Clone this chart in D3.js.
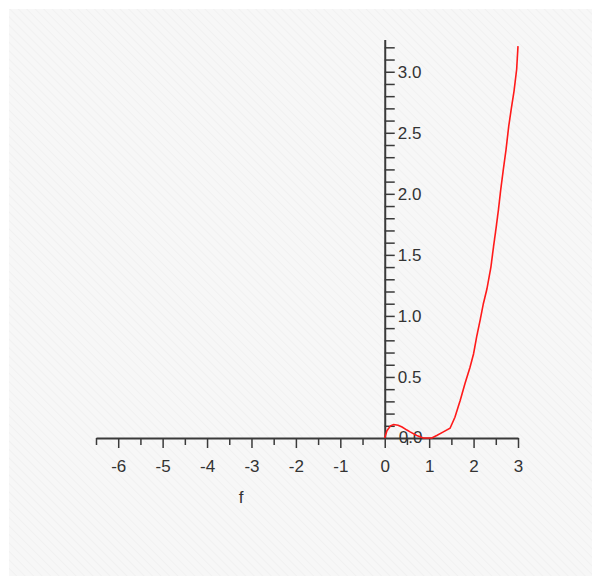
<!DOCTYPE html>
<html>
<head>
<meta charset="utf-8">
<script src="https://cdn.jsdelivr.net/npm/d3@7"></script>
<style>
	body { margin: 0; background: #ffffff; }
	.axis text { font-family: "Liberation Sans", Arial, sans-serif; font-size: 17px; fill: #333333; }
	.axis path, .axis line { stroke: #3a3a3a; }
</style>
</head>
<body>
<div id="plot"></div>
<script>
// curve samples
var xValues = [0, 0.05, 0.13, 0.2, 0.3, 0.39, 0.5, 0.57, 0.72, 0.87, 1.0, 1.06, 1.17, 1.32, 1.47,
	1.58, 1.7, 1.81, 1.92, 2.0, 2.07, 2.15, 2.22, 2.3, 2.39, 2.45, 2.51, 2.56, 2.61, 2.67,
	2.73, 2.79, 2.85, 2.91, 2.97, 3.0];
var yValues = [0, 0.06, 0.10, 0.11, 0.105, 0.09, 0.065, 0.05, 0.02, 0.0, 0.0, 0.0, 0.02, 0.05, 0.08,
	0.17, 0.31, 0.45, 0.58, 0.69, 0.83, 0.97, 1.10, 1.22, 1.40, 1.57, 1.73, 1.87, 2.03, 2.20,
	2.36, 2.55, 2.70, 2.84, 3.02, 3.21];

var xMajorTicks = [-6, -5, -4, -3, -2, -1, 0, 1, 2, 3];
var xMinorTicks = [-6.5, -5.5, -4.5, -3.5, -2.5, -1.5, -0.5, 0.5, 1.5, 2.5];
var yLabelTicks = [0, 0.5, 1.0, 1.5, 2.0, 2.5, 3.0];
var xLabel = "f";

var opts = {
	width: 592,
	height: 576,
	xDomain: [-6.5, 3],
	yDomain: [0, 3.26],
	left: 96,     // left end of the x axis
	right: 518,   // right end of the x axis
	top: 40,      // top of the y axis
	bottom: 438   // position of the x axis
};

function drawBackground(svg)
{
	// faint diagonal hatch like the original plot window
	var pat = svg.append("defs").append("pattern")
		.attr("id", "hatch")
		.attr("width", 6)
		.attr("height", 6)
		.attr("patternUnits", "userSpaceOnUse")
		.attr("patternTransform", "rotate(-45)");
	pat.append("rect").attr("width", 6).attr("height", 6).attr("fill", "#f7f7f7");
	pat.append("line").attr("x1", 0).attr("y1", 0).attr("x2", 0).attr("y2", 6)
		.attr("stroke", "#f1f1f1").attr("stroke-width", 2);

	svg.append("rect")
		.attr("x", 9)
		.attr("y", 9)
		.attr("width", opts.width - 9)
		.attr("height", opts.height - 9)
		.attr("fill", "url(#hatch)");
}

function drawAxes(svg, x, y)
{
	// minor x ticks
	svg.append("g")
		.attr("class", "axis")
		.attr("transform", "translate(0," + opts.bottom + ")")
		.call(d3.axisBottom(x).tickValues(xMinorTicks).tickSize(7).tickFormat(""))
		.call(function(g) { g.select(".domain").remove(); })
		.selectAll("line").attr("stroke-width", 1.5);

	// major x ticks + axis line (plain hyphen for negatives, as in the original)
	var gx = svg.append("g")
		.attr("class", "axis")
		.attr("transform", "translate(0," + opts.bottom + ")")
		.call(d3.axisBottom(x).tickValues(xMajorTicks).tickSize(10).tickSizeOuter(0)
			.tickPadding(12).tickFormat(function(d) { return String(d); }));
	gx.select(".domain").attr("stroke-width", 2);
	gx.selectAll("line").attr("stroke-width", 1.5);

	// y ticks every 0.1, labels only every 0.5
	var yTicks = d3.range(1, 33).map(function(i) { return i / 10; });
	var gy = svg.append("g")
		.attr("class", "axis")
		.attr("transform", "translate(" + x(0) + ",0)")
		.call(d3.axisRight(y).tickValues(yTicks).tickSize(10).tickSizeOuter(0).tickPadding(3)
			.tickFormat(function(d) {
				var hit = yLabelTicks.some(function(v) { return Math.abs(v - d) < 1e-6; });
				return hit ? d3.format(".1f")(d) : "";
			}));
	gy.select(".domain")
		.attr("d", "M0.5," + opts.bottom + "V" + opts.top)
		.attr("stroke-width", 2);
	gy.selectAll("line").attr("stroke-width", 1.5);

	// the 0.0 label sits on the x axis line
	svg.append("text")
		.attr("x", x(0) + 14)
		.attr("y", y(0))
		.attr("dy", "0.32em")
		.attr("font-family", "Liberation Sans, Arial, sans-serif")
		.attr("font-size", 17)
		.attr("fill", "#333333")
		.text(d3.format(".1f")(0));

	svg.append("text")
		.attr("x", 241)
		.attr("y", 503)
		.attr("text-anchor", "middle")
		.attr("font-family", "Liberation Sans, Arial, sans-serif")
		.attr("font-size", 17)
		.attr("fill", "#333333")
		.text(xLabel);
}

function drawCurve(svg, x, y)
{
	var pts = xValues.map(function(v, i) { return [v, yValues[i]]; });
	var line = d3.line()
		.x(function(d) { return x(d[0]); })
		.y(function(d) { return y(d[1]); });

	svg.append("path")
		.datum(pts)
		.attr("d", line)
		.attr("fill", "none")
		.attr("stroke", "#ff1a1a")
		.attr("stroke-width", 1.6);
}

function init()
{
	var svg = d3.select("#plot").append("svg")
		.attr("width", opts.width)
		.attr("height", opts.height);

	var x = d3.scaleLinear().domain(opts.xDomain).range([opts.left, opts.right]);
	var y = d3.scaleLinear().domain(opts.yDomain).range([opts.bottom, opts.top]);

	drawBackground(svg);
	drawAxes(svg, x, y);
	drawCurve(svg, x, y);
}

init();
</script>
</body>
</html>
